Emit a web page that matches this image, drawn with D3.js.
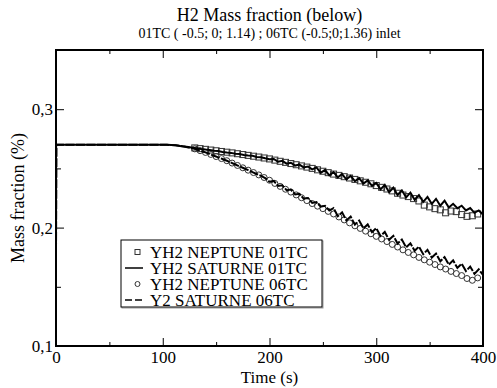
<!DOCTYPE html>
<html>
<head>
<meta charset="utf-8">
<script src="https://cdn.jsdelivr.net/npm/d3@7"></script>
<style>
  body { margin: 0; background: #fff; }
</style>
</head>
<body>
<div id="chart"></div>
<script>
// time (s) for the two SATURNE curves
const lineTime = [0, 0.5, 50, 100, 104, 108, 112, 116, 120, 124, 128, 132, 136, 140, 144, 148, 152, 156, 160,
  164, 168, 172, 176, 180, 184, 188, 192, 196, 200, 204, 208, 212, 216, 220, 224, 228, 232, 236, 240,
  244, 248, 252, 256, 260, 264, 268, 272, 276, 280, 284, 288, 292, 296, 300, 304, 308, 312, 316, 320,
  324, 328, 332, 336, 340, 344, 348, 352, 356, 360, 364, 368, 372, 376, 380, 384, 388, 392, 396, 400];

const saturne01 = [0.27, 0.27, 0.27, 0.2700, 0.2700, 0.2697, 0.2695, 0.2690, 0.2684, 0.2681, 0.2674, 0.2671,
  0.2664, 0.2659, 0.2656, 0.2649, 0.2646, 0.2639, 0.2634, 0.2631, 0.2624, 0.2621, 0.2614, 0.2609, 0.2606,
  0.2597, 0.2594, 0.2585, 0.2577, 0.2580, 0.2556, 0.2564, 0.2540, 0.2548, 0.2524, 0.2532, 0.2508, 0.2516,
  0.2492, 0.2508, 0.2462, 0.2488, 0.2442, 0.2468, 0.2424, 0.2452, 0.2408, 0.2436, 0.2392, 0.2418, 0.2372,
  0.2398, 0.2352, 0.2378, 0.2323, 0.2361, 0.2299, 0.2337, 0.2275, 0.2315, 0.2255, 0.2295, 0.2235, 0.2275,
  0.2217, 0.2259, 0.2201, 0.2243, 0.2185, 0.2227, 0.2169, 0.2201, 0.2163, 0.2185, 0.2145, 0.2165, 0.2125,
  0.2145, 0.2110];

const saturne06 = [0.18, 0.27, 0.27, 0.2700, 0.2699, 0.2698, 0.2695, 0.2690, 0.2685, 0.2677, 0.2669, 0.2659,
  0.2647, 0.2635, 0.2621, 0.2607, 0.2593, 0.2579, 0.2565, 0.2549, 0.2533, 0.2517, 0.2501, 0.2485, 0.2469,
  0.2453, 0.2437, 0.2418, 0.2388, 0.2394, 0.2352, 0.2358, 0.2316, 0.2322, 0.2280, 0.2286, 0.2244, 0.2250,
  0.2208, 0.2216, 0.2176, 0.2184, 0.2144, 0.2165, 0.2097, 0.2129, 0.2061, 0.2093, 0.2025, 0.2059, 0.1993,
  0.2027, 0.1961, 0.1995, 0.1929, 0.1963, 0.1897, 0.1931, 0.1865, 0.1899, 0.1833, 0.1867, 0.1804, 0.1840,
  0.1776, 0.1812, 0.1747, 0.1781, 0.1715, 0.1751, 0.1687, 0.1723, 0.1659, 0.1695, 0.1633, 0.1671, 0.1609,
  0.1647, 0.1600];

// time (s) for the NEPTUNE points
const neptuneTime = [130, 135, 140, 145, 150, 155, 160, 165, 170, 175, 180, 185, 190, 195, 200, 205, 210,
  215, 220, 225, 230, 235, 240, 245, 250, 255, 260, 265, 270, 275, 280, 285, 290, 295, 300, 305, 310,
  315, 320, 325, 330, 335, 340, 345, 350, 355, 360, 365, 370, 375, 380, 385, 390, 395];

const neptune01 = [0.2673, 0.2667, 0.2661, 0.2655, 0.2649, 0.2643, 0.2637, 0.2631, 0.2624, 0.2617, 0.2610,
  0.2603, 0.2596, 0.2588, 0.2580, 0.2570, 0.2560, 0.2551, 0.2541, 0.2531, 0.2521, 0.2511, 0.2500, 0.2488,
  0.2476, 0.2464, 0.2452, 0.2441, 0.2430, 0.2419, 0.2407, 0.2395, 0.2383, 0.2370, 0.2355, 0.2340, 0.2326,
  0.2310, 0.2290, 0.2275, 0.2262, 0.2245, 0.2225, 0.2190, 0.2175, 0.2160, 0.2150, 0.2125, 0.2140, 0.2135,
  0.2110, 0.2095, 0.2100, 0.2115];

const neptune06 = [0.2665, 0.2650, 0.2635, 0.2618, 0.2600, 0.2583, 0.2565, 0.2545, 0.2525, 0.2505, 0.2485,
  0.2465, 0.2445, 0.2423, 0.2400, 0.2373, 0.2348, 0.2324, 0.2300, 0.2276, 0.2252, 0.2228, 0.2203, 0.2181,
  0.2160, 0.2137, 0.2115, 0.2090, 0.2065, 0.2040, 0.2015, 0.1993, 0.1970, 0.1948, 0.1926, 0.1904, 0.1882,
  0.1858, 0.1836, 0.1812, 0.1790, 0.1770, 0.1748, 0.1728, 0.1708, 0.1688, 0.1668, 0.1650, 0.1630, 0.1612,
  0.1595, 0.1570, 0.1555, 0.1575];

const xTicks = [0, 100, 200, 300, 400];
const xMinor = [50, 150, 250, 350];
const yTicks = [0.1, 0.2, 0.3];
const yMinor = [0.15, 0.25];
const legendLabels = ["YH2 NEPTUNE 01TC", "YH2 SATURNE 01TC", "YH2 NEPTUNE 06TC", "Y2 SATURNE 06TC"];

const w = 497, h = 388;
const mLeft = 56, mRight = 483, mTop = 50, mBottom = 346;
const serif = "'Liberation Serif', 'DejaVu Serif', serif";

const svg = d3.select("#chart").append("svg")
  .attr("width", w)
  .attr("height", h);

const x = d3.scaleLinear().domain([0, 400]).range([mLeft, mRight]);
const y = d3.scaleLinear().domain([0.1, 0.35]).range([mBottom, mTop]);

// titles
svg.append("text")
  .attr("x", (mLeft + mRight) / 2).attr("y", 21)
  .attr("text-anchor", "middle")
  .style("font-size", "18px")
  .text("H2 Mass fraction (below)");
svg.append("text")
  .attr("x", (mLeft + mRight) / 2).attr("y", 38)
  .attr("text-anchor", "middle")
  .style("font-size", "14px")
  .text("01TC ( -0.5; 0; 1.14) ; 06TC (-0.5;0;1.36) inlet");

// markers first, lines over them
const plot = svg.append("g");

plot.selectAll(".sq")
  .data(neptuneTime.map((t, i) => [t, neptune01[i]]))
  .enter().append("rect")
  .attr("class", "sq")
  .attr("x", d => x(d[0]) - 3)
  .attr("y", d => y(d[1]) - 3)
  .attr("width", 6).attr("height", 6)
  .attr("fill", "none").attr("stroke", "#333").attr("stroke-width", 1);

plot.selectAll(".ci")
  .data(neptuneTime.map((t, i) => [t, neptune06[i]]))
  .enter().append("circle")
  .attr("class", "ci")
  .attr("cx", d => x(d[0]))
  .attr("cy", d => y(d[1]))
  .attr("r", 3)
  .attr("fill", "none").attr("stroke", "#333").attr("stroke-width", 1);

const line = d3.line().x(d => x(d[0])).y(d => y(d[1]));

plot.append("path")
  .datum(lineTime.slice(1).map((t, i) => [t, saturne01[i + 1]]))
  .attr("d", line)
  .attr("fill", "none").attr("stroke", "#000").attr("stroke-width", 2);

plot.append("path")
  .datum(lineTime.map((t, i) => [t, saturne06[i]]))
  .attr("d", line)
  .attr("fill", "none").attr("stroke", "#000").attr("stroke-width", 2)
  .attr("stroke-dasharray", "9,1.5");

// axes with inward ticks
const axisStyle = g => {
  g.select(".domain").remove();
  g.selectAll("line").attr("stroke", "#000").attr("stroke-width", 1);
  g.selectAll("text").attr("fill", "#000").style("font-size", "17px");
};

svg.append("g").attr("transform", `translate(0,${mBottom})`)
  .call(d3.axisBottom(x).tickValues(xTicks).tickSize(-8).tickPadding(5).tickFormat(d3.format("d")))
  .call(axisStyle);
svg.append("g").attr("transform", `translate(0,${mBottom})`)
  .call(d3.axisBottom(x).tickValues(xMinor).tickSize(-4).tickFormat(""))
  .call(axisStyle);
svg.append("g").attr("transform", `translate(0,${mTop})`)
  .call(d3.axisTop(x).tickValues(xTicks).tickSize(-8).tickFormat(""))
  .call(axisStyle);
svg.append("g").attr("transform", `translate(0,${mTop})`)
  .call(d3.axisTop(x).tickValues(xMinor).tickSize(-4).tickFormat(""))
  .call(axisStyle);

svg.append("g").attr("transform", `translate(${mLeft},0)`)
  .call(d3.axisLeft(y).tickValues(yTicks).tickSize(-8).tickPadding(3)
    .tickFormat(d => d.toFixed(1).replace(".", ",")))
  .call(axisStyle);
svg.append("g").attr("transform", `translate(${mLeft},0)`)
  .call(d3.axisLeft(y).tickValues(yMinor).tickSize(-5).tickFormat(""))
  .call(axisStyle);
svg.append("g").attr("transform", `translate(${mRight},0)`)
  .call(d3.axisRight(y).tickValues(yTicks).tickSize(-8).tickFormat(""))
  .call(axisStyle);
svg.append("g").attr("transform", `translate(${mRight},0)`)
  .call(d3.axisRight(y).tickValues(yMinor).tickSize(-5).tickFormat(""))
  .call(axisStyle);

// frame
svg.append("rect")
  .attr("x", mLeft).attr("y", mTop)
  .attr("width", mRight - mLeft).attr("height", mBottom - mTop)
  .attr("fill", "none").attr("stroke", "#000").attr("stroke-width", 2);

// axis titles
svg.append("text")
  .attr("x", (mLeft + mRight) / 2).attr("y", 383)
  .attr("text-anchor", "middle")
  .style("font-size", "17px")
  .text("Time (s)");
svg.append("text")
  .attr("transform", `translate(24,${(mTop + mBottom) / 2}) rotate(-90)`)
  .attr("text-anchor", "middle")
  .style("font-size", "18px")
  .text("Mass fraction (%)");

// legend
const lg = svg.append("g").attr("transform", "translate(121,240)");
lg.append("rect").attr("x", 1).attr("y", 1).attr("width", 201).attr("height", 67)
  .attr("fill", "none").attr("stroke", "#999").attr("stroke-width", 1);
lg.append("rect").attr("x", 0).attr("y", 0).attr("width", 201).attr("height", 67)
  .attr("fill", "#fff").attr("stroke", "#000").attr("stroke-width", 1);

const rowH = 16;
legendLabels.forEach((lab, i) => {
  const cy = 12 + i * rowH;
  const row = lg.append("g");
  if (i === 0) {
    row.append("rect").attr("x", 14).attr("y", cy - 2.5).attr("width", 5).attr("height", 5)
      .attr("fill", "none").attr("stroke", "#333");
  } else if (i === 2) {
    row.append("circle").attr("cx", 16.5).attr("cy", cy).attr("r", 2.5)
      .attr("fill", "none").attr("stroke", "#333");
  } else {
    row.append("line").attr("x1", 4).attr("x2", 22).attr("y1", cy).attr("y2", cy)
      .attr("stroke", "#000").attr("stroke-width", 1.5)
      .attr("stroke-dasharray", i === 3 ? "7,3" : null);
  }
  row.append("text").attr("x", 29).attr("y", cy + 5.5)
    .style("font-size", "17px")
    .text(lab);
});

// one serif face for every text
svg.selectAll("text").style("font-family", serif);
</script>
</body>
</html>
